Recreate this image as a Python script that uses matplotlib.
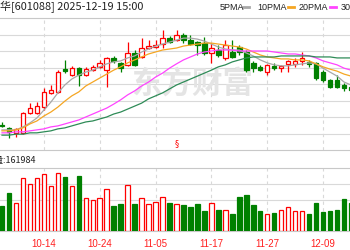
import matplotlib
matplotlib.use('Agg')
import matplotlib.pyplot as plt
from matplotlib.patches import Rectangle
from matplotlib.lines import Line2D

plt.rcParams['font.family'] = ['Noto Sans CJK SC', 'DejaVu Sans']

dates = ['09-26', '09-29', '09-30', '10-09', '10-10', '10-13', '10-14', '10-15', '10-16', '10-17',
         '10-20', '10-21', '10-22', '10-23', '10-24', '10-27', '10-28', '10-29', '10-30', '10-31',
         '11-03', '11-04', '11-05', '11-06', '11-07', '11-10', '11-11', '11-12', '11-13', '11-14',
         '11-17', '11-18', '11-19', '11-20', '11-21', '11-24', '11-25', '11-26', '11-27', '11-28',
         '12-01', '12-02', '12-03', '12-04', '12-05', '12-08', '12-09', '12-10', '12-11', '12-12',
         '12-15']
tick_labels = dates[6::8]

opens = [38.77, 38.67, 38.52, 38.52, 39.12, 39.12, 39.30, 39.73, 39.76, 40.45,
         40.27, 40.48, 40.27, 40.42, 40.52, 40.42, 40.79, 40.64, 40.58, 40.94,
         40.82, 41.09, 41.12, 41.21, 41.39, 41.33, 41.48, 41.33, 41.27, 41.24,
         40.94, 41.03, 40.79, 40.97, 41.12, 40.97, 40.64, 40.52, 40.36, 40.55,
         40.48, 40.61, 40.61, 40.70, 40.67, 40.64, 40.36, 40.12, 40.12, 39.97,
         39.91]
closes = [38.74, 38.55, 38.64, 39.12, 39.27, 39.33, 39.76, 39.82, 40.36, 40.39,
          40.48, 40.27, 40.45, 40.52, 40.64, 40.79, 40.70, 40.48, 40.94, 40.58,
          41.09, 41.15, 41.18, 41.39, 41.27, 41.48, 41.33, 41.21, 41.18, 40.94,
          41.09, 40.88, 41.18, 40.82, 40.97, 40.42, 40.48, 40.42, 40.58, 40.48,
          40.55, 40.70, 40.70, 40.79, 40.61, 40.18, 40.12, 39.91, 39.91, 39.88,
          39.82]
highs = [38.85, 38.70, 38.67, 39.15, 39.42, 39.45, 39.88, 39.97, 40.42, 40.73,
         40.55, 40.52, 40.52, 40.58, 40.73, 40.82, 40.85, 40.67, 41.27, 41.03,
         41.39, 41.33, 41.33, 41.64, 41.45, 41.64, 41.55, 41.48, 41.30, 41.42,
         41.24, 41.18, 41.33, 41.33, 41.18, 41.03, 40.70, 40.58, 40.61, 40.64,
         40.58, 40.73, 40.79, 40.97, 40.73, 40.67, 40.42, 40.15, 40.27, 40.03,
         39.94]
lows = [38.70, 38.36, 38.39, 38.48, 39.09, 39.09, 39.21, 39.70, 39.73, 40.33,
        40.24, 39.94, 40.24, 40.39, 40.48, 39.91, 40.64, 40.36, 40.55, 40.55,
        40.79, 41.06, 41.09, 41.09, 41.24, 41.30, 41.24, 41.18, 40.88, 40.88,
        40.64, 40.82, 40.73, 40.79, 40.88, 40.36, 40.36, 40.39, 40.27, 40.42,
        40.36, 40.36, 40.52, 40.58, 40.52, 40.12, 40.06, 39.88, 39.88, 39.79,
        39.76]
volumes = [65800, 99600, 72800, 137800, 122200, 137800, 148200, 117000, 150800, 140400,
           117000, 143000, 85800, 80600, 85800, 109200, 65000, 70200, 119600, 70200,
           85800, 70200, 75400, 88400, 72800, 70200, 67600, 62400, 70200, 52000,
           72800, 54600, 54600, 44200, 88400, 93600, 67600, 52000, 44200, 46800,
           54600, 62400, 52000, 52000, 44200, 72800, 49400, 52000, 54600, 83200,
           72800]
ma5 = [38.61, 38.61, 38.61, 38.70, 38.82, 38.97, 39.21, 39.45, 39.73, 39.97,
       40.15, 40.27, 40.36, 40.42, 40.52, 40.61, 40.67, 40.70, 40.79, 40.85,
       40.97, 41.06, 41.15, 41.21, 41.27, 41.33, 41.39, 41.39, 41.36, 41.30,
       41.21, 41.12, 41.06, 41.03, 41.03, 40.94, 40.85, 40.73, 40.64, 40.58,
       40.55, 40.55, 40.58, 40.61, 40.64, 40.61, 40.48, 40.36, 40.24, 40.06,
       39.97]
ma10 = [38.58, 38.58, 38.61, 38.67, 38.79, 38.88, 39.03, 39.15, 39.30, 39.48,
        39.64, 39.76, 39.94, 40.06, 40.18, 40.30, 40.42, 40.52, 40.64, 40.73,
        40.82, 40.91, 40.97, 41.03, 41.06, 41.09, 41.15, 41.18, 41.21, 41.24,
        41.24, 41.21, 41.18, 41.15, 41.12, 41.06, 40.97, 40.88, 40.82, 40.79,
        40.76, 40.76, 40.73, 40.73, 40.70, 40.61, 40.52, 40.45, 40.39, 40.30,
        40.24]
ma20 = [38.52, 38.52, 38.55, 38.55, 38.58, 38.61, 38.64, 38.70, 38.73, 38.79,
        38.85, 38.91, 39.00, 39.09, 39.18, 39.27, 39.39, 39.52, 39.67, 39.79,
        39.94, 40.06, 40.21, 40.33, 40.48, 40.61, 40.73, 40.82, 40.91, 40.97,
        41.00, 41.03, 41.03, 41.03, 41.00, 41.00, 41.00, 41.00, 41.00, 40.97,
        40.94, 40.91, 40.91, 40.88, 40.85, 40.79, 40.70, 40.64, 40.58, 40.48,
        40.42]
ma30 = [38.45, 38.45, 38.48, 38.48, 38.52, 38.52, 38.55, 38.58, 38.64, 38.67,
        38.73, 38.79, 38.85, 38.88, 38.94, 39.00, 39.09, 39.15, 39.24, 39.33,
        39.42, 39.55, 39.64, 39.73, 39.85, 39.97, 40.06, 40.15, 40.24, 40.33,
        40.42, 40.52, 40.58, 40.67, 40.73, 40.79, 40.82, 40.82, 40.82, 40.82,
        40.85, 40.85, 40.85, 40.85, 40.85, 40.82, 40.82, 40.82, 40.79, 40.79,
        40.79]

title_text = '中国神华[601088] 2025-12-19 15:00'
vol_text = '成交量:161984'
legend_names = ['5PMA', '10PMA', '20PMA', '30PMA']

RED = '#ff0000'
GREEN = '#008000'
GRID = '#d9d9d9'
MA_COLORS = ['#a8a8a8', '#f5a623', '#ff44ff', '#2e8b57']

W, H = 350, 250
fig = plt.figure(figsize=(3.5, 2.5), dpi=100)
fig.patch.set_facecolor('white')

def fy(px):
    return 1 - px / H

ax = fig.add_axes([0, fy(150), 1, (150 - 18) / H])
axv = fig.add_axes([0, fy(231), 1, (231 - 168) / H])

xl = (-2 / 6.98, (W - 2) / 6.98)
n = len(closes)
idx = list(range(n))
bw = 0.64

ax.set_xlim(*xl)
ax.set_ylim(38.0, 42.0)
for lv in [38.5, 39.0, 39.5, 40.0, 40.5, 41.0, 41.5]:
    ax.axhline(lv, color=GRID, lw=0.8, zorder=0)
tick_pos = [dates.index(t) for t in tick_labels]
for t in tick_pos:
    ax.axvline(t, color=GRID, lw=0.8, ls=(0, (3, 3)), zorder=0)
    axv.axvline(t, color=GRID, lw=0.8, ls=(0, (3, 3)), zorder=0)

for a in (ax, axv):
    for s in ('left', 'right'):
        a.spines[s].set_visible(False)
    for s in ('top', 'bottom'):
        a.spines[s].set_color('#c8c8c8')
        a.spines[s].set_linewidth(0.8)
    a.set_yticks([])

ax.set_xticks([])

ax.text(0.55, 0.50, '东方财富', transform=ax.transAxes, ha='center', va='center',
        fontsize=22, fontweight='bold', color='#e4e4e4', zorder=1, style='italic')

for i in idx:
    o, c, h, l = opens[i], closes[i], highs[i], lows[i]
    up = c >= o
    col = RED if up else GREEN
    top, bot = max(o, c), min(o, c)
    ax.plot([i, i], [top, h], color=col, lw=0.9, zorder=3, solid_capstyle='butt')
    ax.plot([i, i], [l, bot], color=col, lw=0.9, zorder=3, solid_capstyle='butt')
    if top - bot < 0.02:
        ax.plot([i - bw / 2, i + bw / 2], [c, c], color=col, lw=0.9, zorder=4)
    else:
        ax.add_patch(Rectangle((i - bw / 2, bot), bw, top - bot,
                               facecolor='white' if up else col, edgecolor=col,
                               lw=0.9, zorder=4))

for ma, colr in zip([ma5, ma10, ma20, ma30], MA_COLORS):
    ax.plot(idx, ma, color=colr, lw=0.9, zorder=5)

axv.set_xlim(*xl)
vmax = 163800
axv.set_ylim(0, vmax)
for f in [31 / 63, 47 / 63]:
    axv.axhline(vmax * f, color=GRID, lw=0.8, zorder=0)
for i in idx:
    up = closes[i] >= opens[i]
    col = RED if up else GREEN
    axv.add_patch(Rectangle((i - bw / 2, 0), bw, volumes[i],
                            facecolor='white' if up else col, edgecolor=col,
                            lw=0.9, zorder=3))
axv.set_xticks(tick_pos)
axv.set_xticklabels(tick_labels, color='#ff2020', fontsize=7,
                    fontfamily=['Liberation Sans'])
axv.tick_params(axis='x', length=0, pad=6)

fig.text(143 / W, fy(7), title_text, ha='right', va='center', fontsize=7.9, color='#222222')
fig.text(36 / W, fy(160), vol_text, ha='right', va='center', fontsize=6.5, color='#222222')

lx = [220, 257, 299, 341]
mk = [(243, 249), (288, 294), (330, 336)]
for k, name in enumerate(legend_names):
    fig.text(lx[k] / W, fy(7), name, ha='left', va='center', fontsize=6.5,
             color='#222222', fontfamily=['Liberation Sans'])
for k, (a0, a1) in enumerate(mk):
    fig.add_artist(Line2D([a0 / W, a1 / W], [fy(7), fy(7)], color=MA_COLORS[k], lw=2.0))

ax.text(25, 38.2, '§', color=RED, fontsize=6, ha='center', va='center',
        fontfamily=['DejaVu Sans'])

fig.savefig('out.png', dpi=100)
